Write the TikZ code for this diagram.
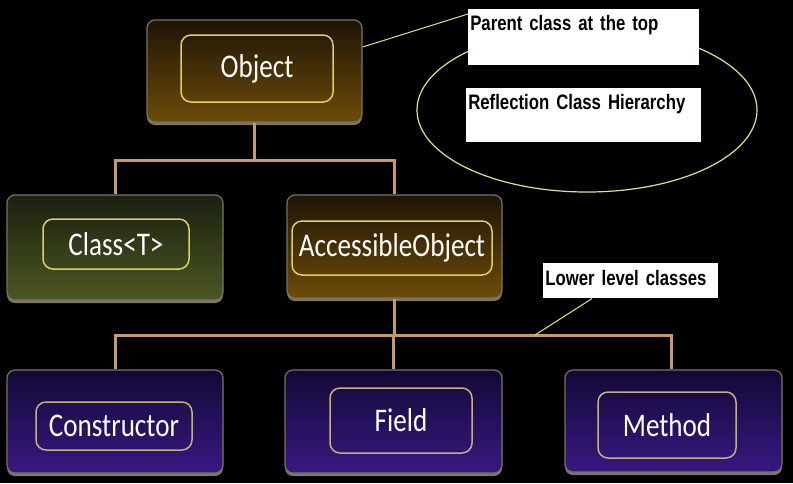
\documentclass[tikz,border=0pt]{standalone}
\usepackage{fontspec}
\usetikzlibrary{shapes.geometric,shadows}
\newfontfamily\boxfont[FakeStretch=0.82]{Carlito}
\newfontfamily\labfont[FakeStretch=0.80]{Liberation Sans}
\newlength\pxu
\setlength\pxu{0.025cm}
\definecolor{conncol}{HTML}{C49A6C}
\definecolor{leadcol}{HTML}{E0E08A}
\definecolor{brtop}{HTML}{1E1405}
\definecolor{brbot}{HTML}{6E4C0A}
\definecolor{oltop}{HTML}{1A2010}
\definecolor{olbot}{HTML}{4C5822}
\definecolor{putop}{HTML}{120936}
\definecolor{pubot}{HTML}{381882}
\definecolor{outline}{HTML}{7A7262}
\definecolor{glowcol}{HTML}{8A8276}
\definecolor{inyel}{HTML}{D8D070}
\definecolor{ingold}{HTML}{C8B078}
\tikzset{
  outerbox/.style={rectangle, rounded corners=8\pxu, draw=outline, line width=1.2\pxu,
    inner sep=0pt, drop shadow={shadow xshift=0pt, shadow yshift=-3\pxu, fill=glowcol, opacity=0.9}},
  brownbox/.style={outerbox, top color=brtop, bottom color=brbot},
  olivebox/.style={outerbox, top color=oltop, bottom color=olbot},
  purplebox/.style={outerbox, top color=putop, bottom color=pubot},
  innerbox/.style={rectangle, rounded corners=10\pxu, line width=1.5\pxu, inner sep=0pt,
    text=white, font={\boxfont\fontsize{23.5}{26}\selectfont}},
  inyellow/.style={innerbox, draw=inyel},
  ingoldb/.style={innerbox, draw=ingold},
  conn/.style={draw=conncol, line width=3\pxu},
  lead/.style={draw=leadcol, line width=1\pxu},
  labbox/.style={fill=white, text=black, anchor=north west, align=left,
    inner xsep=2\pxu, inner ysep=6\pxu, text height=15\pxu,
    font={\labfont\bfseries\fontsize{14.9}{17}\selectfont}},
}
\begin{document}
\begin{tikzpicture}[x=\pxu,y=-\pxu]
\useasboundingbox (0,0) rectangle (793,483);
\fill[black] (0,0) rectangle (793,483);

% ellipse and callouts
\node[ellipse, draw=leadcol, line width=1.2\pxu, minimum width=340\pxu, minimum height=164\pxu, inner sep=0pt] (ell) at (587,110) {};
\node[labbox, text width=227\pxu, text depth=29\pxu] (pbox) at (468,9) {Parent class at the top};
\node[labbox, text width=231\pxu, text depth=27\pxu] (rbox) at (466,88) {Reflection Class Hierarchy};
\node[labbox, text width=171\pxu, inner ysep=7\pxu, text depth=6\pxu] (lbox) at (543,263) {Lower level classes};

% outer boxes
\node[brownbox, minimum width=215\pxu, minimum height=102\pxu] (obj) at (254.5,71) {};
\node[olivebox, minimum width=216\pxu, minimum height=105\pxu] (cls) at (115,247.5) {};
\node[brownbox, minimum width=215\pxu, minimum height=103\pxu] (acc) at (394.5,246.5) {};
\node[purplebox, minimum width=216\pxu, minimum height=103\pxu] (con) at (115,421.5) {};
\node[purplebox, minimum width=217\pxu, minimum height=103\pxu] (fld) at (393.5,421.5) {};
\node[purplebox, minimum width=217\pxu, minimum height=102\pxu] (met) at (673.5,421) {};

% inner labelled boxes
\node[inyellow, minimum width=152\pxu, minimum height=67\pxu] (objt) at (257,68.5) {Object};
\node[inyellow, minimum width=146\pxu, minimum height=50\pxu] (clst) at (116,244) {Class<T>};
\node[inyellow, minimum width=200\pxu, minimum height=54\pxu] (acct) at (392,248) {AccessibleObject};
\node[ingoldb, minimum width=156\pxu, minimum height=48\pxu] (cont) at (114,426) {Constructor};
\node[ingoldb, minimum width=142\pxu, minimum height=65\pxu] (fldt) at (401,420.5) {Field};
\node[ingoldb, minimum width=138\pxu, minimum height=66\pxu] (mett) at (667,425) {Method};

% tree connectors
\coordinate (bar1) at (0,160);
\coordinate (bar2) at (0,335);
\coordinate (mcol) at (671,0);
\draw[conn] (obj.south) -- (obj.south |- bar1);
\draw[conn] (cls.north) |- (bar1 -| acc.north) -- (acc.north);
\draw[conn] (acc.south) -- (acc.south |- bar2);
\draw[conn] (con.north) |- (bar2 -| mcol) -- (met.north -| mcol);
\draw[conn] (fld.north) -- (fld.north |- bar2);

% leader lines
\coordinate (pa) at (365,47);
\coordinate (pb) at (0,14);
\draw[lead] (obj.east |- pa) -- (pbox.west |- pb);
\coordinate (la) at (592,0);
\coordinate (lb) at (535,0);
\draw[lead] (lbox.south -| la) -- (bar2 -| lb);
\end{tikzpicture}
\end{document}
